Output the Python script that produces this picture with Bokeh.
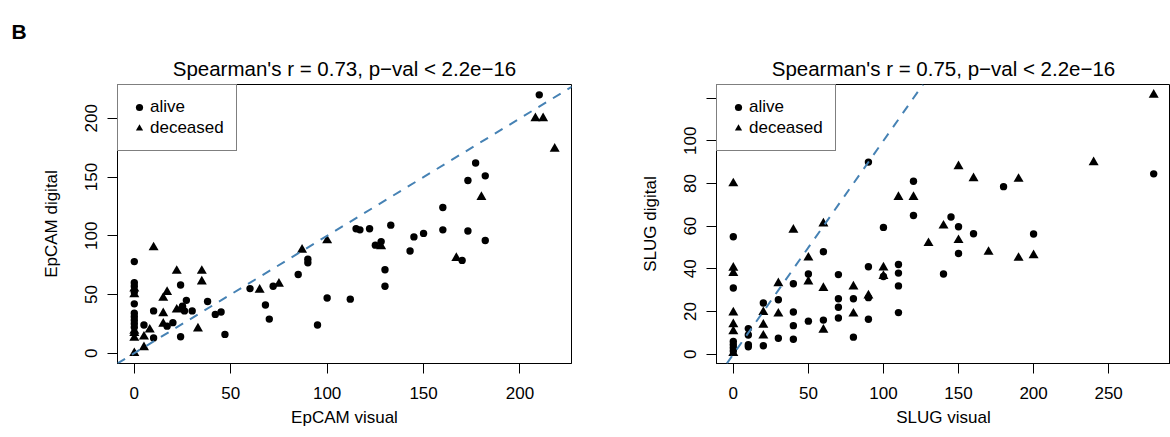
from bokeh.plotting import figure
from bokeh.layouts import row
from bokeh.models import Range1d, Slope, Legend, LegendItem, Title, FixedTicker
from bokeh.embed import file_html
from bokeh.resources import INLINE

FONT = "Liberation Sans"

# ---- Panel 1: EpCAM ----
epcam_alive_visual = [0, 0, 0, 0, 0, 0, 0, 0, 0, 0,
                      5, 10, 10, 17, 20, 24, 24, 27, 25, 26, 30, 38, 42, 45, 47,
                      60, 68, 70, 72, 85, 90, 90, 95, 100, 112,
                      115, 117, 122, 125, 128, 130, 130, 133, 143, 145, 150, 160, 160,
                      170, 173, 173, 177, 182, 182, 210]
epcam_alive_digital = [78, 60, 57, 52, 42, 34, 31, 28, 25, 22,
                       24, 36, 13, 23, 26, 14, 58, 45, 40, 36, 36, 44, 33, 35, 16,
                       55, 41, 29, 57, 67, 80, 77, 24, 47, 46,
                       106, 105, 106, 92, 95, 71, 57, 109, 87, 99, 102, 124, 105,
                       79, 147, 104, 162, 151, 96, 220]
epcam_dec_visual = [0, 0, 0, 0, 0, 0, 5, 5, 8, 10, 15, 15, 15, 17, 22, 22, 24,
                    33, 35, 35, 65, 75, 87, 100, 128, 167, 180, 208, 212, 218]
epcam_dec_digital = [55, 50, 19, 17, 13, 0, 14, 5, 20, 90, 47, 34, 25, 52, 70, 37, 38,
                     21, 70, 61, 54, 59, 88, 96, 91, 81, 133, 200, 200, 174]

# ---- Panel 2: SLUG ----
slug_alive_visual = [0, 0, 0, 0, 0, 0, 10, 10, 10, 10, 20, 20, 30, 30,
                     40, 40, 40, 40, 50, 50, 60, 60, 70, 70, 70, 70, 80, 80,
                     90, 90, 90, 90, 100, 100, 110, 110, 110, 110, 120, 120,
                     140, 145, 150, 150, 160, 180, 200, 280]
slug_alive_digital = [55, 31, 6, 4.5, 3, 1.5, 12, 9, 4.5, 3.5, 24, 4, 25.5, 7.5,
                      33, 19.8, 13.4, 7, 37.6, 15.5, 48, 16, 37.3, 26, 22, 17, 26, 8,
                      90, 41, 26.5, 16.4, 59.4, 36.4, 42, 38, 32, 19.5, 81, 65,
                      37.6, 64.3, 59.7, 47.2, 56.4, 78.5, 56.3, 84.5]
slug_dec_visual = [0, 0, 0, 0, 0, 0, 0, 20, 20, 20, 30, 30, 40, 50, 50, 60, 60, 60,
                   80, 80, 90, 100, 100, 110, 120, 130, 140, 150, 150, 160, 170,
                   190, 190, 200, 240, 280]
slug_dec_digital = [80, 40.5, 38, 19.5, 14, 10.7, 0.5, 19.7, 13.8, 8.7, 33.2, 19, 58.3,
                    45.2, 34, 61.2, 31, 11.4, 31.7, 19, 27.5, 40.6, 36.6, 73.6, 73.6,
                    52, 60.2, 88, 53.4, 82.4, 47.9, 82.1, 45.1, 46.3, 89.9, 121.5]

epcam_xticks = [0, 50, 100, 150, 200]
epcam_yticks = [0, 50, 100, 150, 200]
slug_xticks = [0, 50, 100, 150, 200, 250]
slug_yticks = [0, 20, 40, 60, 80, 100, 120]

TITLE_1 = "Spearman's r = 0.73, p\u2212val < 2.2e\u221216"
TITLE_2 = "Spearman's r = 0.75, p\u2212val < 2.2e\u221216"


def r_range(vals):
    lo, hi = min(vals), max(vals)
    pad = 0.04 * (hi - lo)
    return Range1d(lo - pad, hi + pad)


def panel(title, xlabel, ylabel, ax, ay, dx, dy, xticks, yticks, hidden,
          width, mb_left, mb_right, mb_top, mb_bottom):
    p = figure(width=width, height=437, output_backend="svg", toolbar_location=None,
               x_range=r_range(ax + dx), y_range=r_range(ay + dy),
               min_border_left=mb_left, min_border_right=mb_right,
               min_border_top=mb_top, min_border_bottom=mb_bottom,
               title=None)
    p.add_layout(Title(text=title, text_font=FONT, text_font_size="20.5px",
                       text_font_style="normal", text_color="black",
                       align="center", standoff=10), "above")
    p.xgrid.visible = False
    p.ygrid.visible = False
    p.outline_line_color = "black"
    p.outline_line_width = 1
    p.background_fill_color = "white"
    p.border_fill_color = "white"

    p.xaxis.ticker = FixedTicker(ticks=xticks)
    p.yaxis.ticker = FixedTicker(ticks=yticks)
    p.yaxis.major_label_overrides = {t: "" for t in hidden}
    p.xaxis.axis_label = xlabel
    p.yaxis.axis_label = ylabel
    for ax_ in (p.xaxis[0], p.yaxis[0]):
        ax_.axis_label_text_font = FONT
        ax_.axis_label_text_font_size = "17px"
        ax_.axis_label_text_font_style = "normal"
        ax_.axis_label_text_color = "black"
        ax_.major_label_text_font = FONT
        ax_.major_label_text_font_size = "17px"
        ax_.major_label_text_color = "black"
        ax_.major_tick_out = 10
        ax_.major_tick_in = 0
        ax_.minor_tick_out = 0
        ax_.minor_tick_in = 0
        ax_.axis_line_color = "black"
        ax_.major_tick_line_color = "black"
    p.xaxis.major_label_standoff = 13
    p.xaxis.axis_label_standoff = 6
    p.yaxis.major_label_orientation = "vertical"
    p.yaxis.major_label_standoff = 10
    p.yaxis.axis_label_standoff = 22

    ra = p.scatter(ax, ay, marker="circle", size=7.4, fill_color="black", line_color=None)
    rd = p.scatter(dx, dy, marker="triangle", size=10, fill_color="black", line_color=None)

    p.add_layout(Slope(gradient=1, y_intercept=0, line_color="#4682B4",
                       line_width=2, line_dash="9 8"))

    legend = Legend(items=[LegendItem(label="alive", renderers=[ra]),
                           LegendItem(label="deceased", renderers=[rd])],
                    location="top_left", margin=0, padding=12, spacing=1,
                    glyph_width=18, glyph_height=20, label_height=20,
                    label_standoff=2, label_text_font=FONT,
                    label_text_font_size="17px", label_text_color="black",
                    border_line_color="black", border_line_width=1,
                    background_fill_color="white", background_fill_alpha=1)
    p.add_layout(legend, "center")
    return p


p1 = panel(TITLE_1, "EpCAM visual", "EpCAM digital",
           epcam_alive_visual, epcam_alive_digital, epcam_dec_visual, epcam_dec_digital,
           epcam_xticks, epcam_yticks, [], 585, 117, 14, 79, 74)
p2 = panel(TITLE_2, "SLUG visual", "SLUG digital",
           slug_alive_visual, slug_alive_digital, slug_dec_visual, slug_dec_digital,
           slug_xticks, slug_yticks, [120], 585, 131, 0, 84, 68)

p1.add_layout(Title(text="B", text_font=FONT, text_font_size="21px",
                    text_font_style="bold", text_color="black",
                    align="left", offset=-106, standoff=14), "above")

layout = row(p1, p2)
open("out.html", "w").write(file_html(layout, INLINE))
